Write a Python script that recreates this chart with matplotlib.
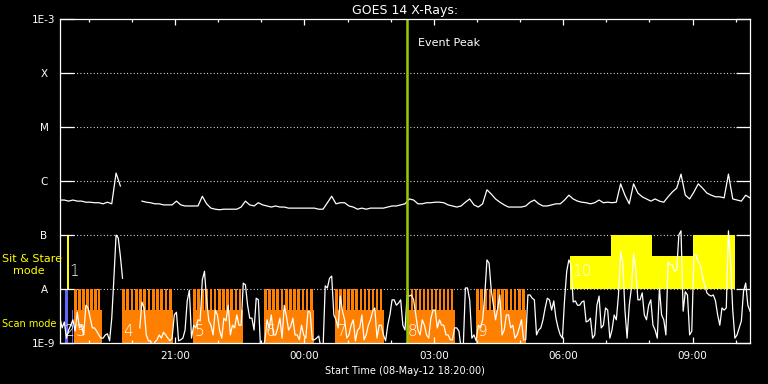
import numpy as np
import matplotlib
matplotlib.use('Agg')
import matplotlib.pyplot as plt
from matplotlib.ticker import NullLocator

W, H = 768, 384
nan = np.nan

# time in hours after 08-May-12 18:20:00 UT
t_long = np.arange(161) * 0.1     # 6 min samples
t_short = np.arange(321) * 0.05   # 3 min samples

# long channel (1-8 A), log10 W/m^2
goes_long_log = [
    -6.35, -6.35, -6.37, -6.35, -6.37, -6.37, -6.39, -6.39, -6.40, -6.40,
    -6.42, -6.39, -6.42, -5.85, -6.09, nan, nan, nan, nan, -6.37,
    -6.39, -6.40, -6.42, -6.42, -6.44, -6.44, -6.44, -6.37, -6.44, -6.46,
    -6.46, -6.46, -6.46, -6.28, -6.42, -6.50, -6.52, -6.53, -6.52, -6.52,
    -6.52, -6.52, -6.48, -6.37, -6.44, -6.46, -6.40, -6.44, -6.46, -6.48,
    -6.46, -6.48, -6.48, -6.50, -6.50, -6.50, -6.50, -6.50, -6.50, -6.50,
    -6.52, -6.52, -6.40, -6.28, -6.42, -6.40, -6.40, -6.46, -6.48, -6.52,
    -6.50, -6.52, -6.50, -6.50, -6.50, -6.50, -6.48, -6.46, -6.46, -6.44,
    -6.42, -6.33, -6.35, -6.42, -6.42, -6.40, -6.40, -6.39, -6.39, -6.40,
    -6.44, -6.46, -6.48, -6.46, -6.39, -6.33, -6.44, -6.48, -6.42, -6.16,
    -6.24, -6.33, -6.39, -6.44, -6.48, -6.48, -6.48, -6.48, -6.46, -6.39,
    -6.35, -6.42, -6.46, -6.46, -6.44, -6.42, -6.42, -6.35, -6.26, -6.33,
    -6.37, -6.39, -6.40, -6.42, -6.40, -6.35, -6.40, -6.39, -6.40, -6.39,
    -6.05, -6.26, -6.42, -6.05, -6.22, -6.29, -6.33, -6.37, -6.33, -6.37,
    -6.39, -6.29, -6.20, -6.13, -5.87, -6.26, -6.33, -6.20, -6.05, -6.13,
    -6.22, -6.26, -6.29, -6.29, -6.31, -5.87, -6.33, -6.35, -6.37, -6.26,
    -6.31]

# short channel (0.5-4 A), log10 W/m^2
goes_short_log = [
    -8.54, -8.72, -8.61, -8.91, -8.76, -8.67, -8.57, -8.78, -8.43, -8.72,
    -8.67, -8.85, -8.30, -8.35, -8.54, -8.72, -8.72, -8.78, -8.85, -8.91,
    -8.91, -8.85, -8.83, -8.96, -8.54, -7.80, -7.00, -7.05, -7.39, -7.80,
    nan, nan, nan, nan, nan, nan, nan, -8.72, -8.24, -8.35,
    -8.85, -8.96, -8.96, -9.10, -8.98, -8.94, -8.85, -8.91, -8.80, -8.85,
    -8.91, -8.96, -8.91, -8.48, -8.43, -8.96, -8.94, -8.91, -8.76, -8.22,
    -8.02, -8.91, -8.67, -8.72, -8.57, -8.59, -7.83, -7.67, -8.20, -8.59,
    -8.67, -8.85, -8.39, -8.48, -8.76, -8.91, -8.54, -8.59, -8.30, -8.85,
    -8.67, -8.72, -8.48, -8.67, -8.67, -7.89, -7.92, -8.30, -8.54, -8.54,
    -8.76, -8.17, -8.20, -9.10, -9.10, -8.96, -8.57, -8.72, -8.48, -8.85,
    -8.85, -8.72, -8.54, -8.91, -8.30, -8.50, -8.76, -8.69, -8.54, -8.85,
    -8.85, -8.94, -8.67, -8.85, -8.91, -8.41, -8.43, -8.94, -8.94, -8.91,
    -8.87, -9.10, -9.10, -7.94, -7.98, -7.80, -7.76, -8.48, -8.57, -8.72,
    -8.13, -8.41, -8.57, -8.91, -8.85, -8.67, -8.57, -8.96, -8.76, -8.72,
    -8.48, -8.94, -8.85, -8.67, -8.57, -8.41, -8.35, -8.91, -8.67, -8.67,
    -8.85, -8.96, -8.67, -8.48, -8.20, -8.20, -8.30, -8.26, -8.20, -8.67,
    -8.76, -8.11, -8.13, -8.11, -8.20, -8.48, -8.76, -8.85, -8.57, -8.67,
    -8.85, -8.91, -8.54, -8.39, -8.39, -8.72, -8.57, -8.67, -8.67, -8.85,
    -8.85, -8.94, -8.94, -8.72, -8.72, -8.78, -9.10, -9.10, -7.98, -7.98,
    -8.20, -8.91, -8.85, -8.96, -8.67, -8.72, -8.57, -8.11, -7.46, -7.52,
    -8.02, -8.30, -8.57, -8.35, -8.11, -8.85, -8.76, -8.48, -8.48, -8.72,
    -8.67, -8.91, -8.85, -8.72, -8.57, -8.94, -8.94, -8.11, -8.11, -8.17,
    -8.20, -8.85, -8.76, -8.72, -8.57, -8.35, -8.17, -8.20, -8.39, -8.22,
    -8.54, -8.72, -8.85, -8.91, -8.20, -7.67, -7.46, -7.55, -8.24, -8.22,
    -8.30, -8.30, -8.24, -8.22, -8.61, -8.59, -8.54, -8.91, -8.85, -8.30,
    -8.13, -8.72, -8.67, -8.35, -8.39, -8.91, -8.76, -8.48, -8.57, -8.11,
    -7.31, -7.52, -8.39, -8.91, -8.30, -7.98, -7.35, -7.61, -8.20, -8.20,
    -8.07, -8.48, -8.57, -8.30, -8.20, -8.67, -8.76, -8.91, -7.98, -8.48,
    -8.57, -8.85, -7.50, -7.55, -7.55, -7.67, -7.65, -7.00, -6.92, -8.41,
    -8.05, -8.11, -8.85, -8.78, -7.37, -7.37, -7.50, -7.55, -7.78, -7.92,
    -8.07, -8.11, -8.13, -8.11, -8.22, -8.48, -8.67, -8.35, -8.39, -8.35,
    -6.92, -7.52, -8.39, -8.91, -8.85, -8.72, -8.59, -8.04, -7.89, -8.30,
    -8.41]

event_peak = 8.04  # 02:22 UT

# observation 1: sit & stare (short)
ss1_start, ss1_end = 0.16, 0.21
# observation 2: scan (blue)
obs2_raster = (0.116, 0.186)
obs2_base = (0.278, 0.309)
# scan mode observations 3-9
scan_ids = ['3', '4', '5', '6', '7', '8', '9']
scan_start = [0.33, 1.44, 3.08, 4.73, 6.38, 8.04, 9.65]
scan_end = [0.97, 2.62, 4.24, 5.89, 7.51, 9.15, 10.81]
scan_rasters = [7, 12, 12, 12, 12, 12, 12]
# observation 10: sit & stare, pointings
ss10_start = [11.83, 12.78, 13.73, 14.68]
ss10_end = [12.78, 13.73, 14.68, 15.65]
ss10_top = [4.1e-8, 1e-7, 4.1e-8, 1e-7]

class_levels = [1e-9, 1e-8, 1e-7, 1e-6, 1e-5, 1e-4, 1e-3]
class_labels = ['1E-9', 'A', 'B', 'C', 'M', 'X', '1E-3']

xtick_clock = [21, 24, 27, 30, 33]
xtick_labels = ['21:00', '00:00', '03:00', '06:00', '09:00']
t0_clock = 18 + 20 / 60.0

orange = '#FF8000'
yellow = '#FFFF00'
blue = '#6464FF'
floor = 1e-10
scan_base = 4.1e-9

fig = plt.figure(figsize=(W / 100, H / 100), dpi=100, facecolor='black')
ax = fig.add_axes([60 / W, 1 - 343 / H, 690 / W, 323.7 / H], facecolor='black')
ax.set_yscale('log')
ax.set_xlim(0, 16)
ax.set_ylim(1e-9, 1e-3)

# dotted class lines
for lvl in class_levels[1:-1]:
    ax.axhline(lvl, color='white', lw=0.8, dashes=(0.8, 2.2), zorder=0.5)

# observation blocks
ax.bar(ss1_start, 1e-7 - 1e-8, bottom=1e-8, width=ss1_end - ss1_start,
       align='edge', color=yellow, lw=0, zorder=1)
ax.bar(obs2_raster[0], 1e-8 - floor, bottom=floor, width=obs2_raster[1] - obs2_raster[0],
       align='edge', color=blue, lw=0, zorder=1)
ax.bar(obs2_base[0], scan_base - floor, bottom=floor, width=obs2_base[1] - obs2_base[0],
       align='edge', color=blue, lw=0, zorder=1)
for s, e, n in zip(scan_start, scan_end, scan_rasters):
    ax.bar(s, scan_base - floor, bottom=floor, width=e - s, align='edge',
           color=orange, lw=0, zorder=1)
    step = (e - s) / n
    ax.bar(s + step * np.arange(n), 1e-8 - floor, bottom=floor, width=0.65 * step,
           align='edge', color=orange, lw=0, zorder=1)
ax.bar(ss10_start, np.array(ss10_top) - 1e-8, bottom=1e-8,
       width=np.array(ss10_end) - np.array(ss10_start),
       align='edge', color=yellow, lw=0, zorder=1)

# observation numbers
num_kw = dict(color='white', fontsize=11, fontweight='light', va='center', ha='left', zorder=2)
ax.text(ss1_start + 0.06, 2.1e-8, '1', **num_kw)
ax.text(obs2_raster[0], 1.6e-9, '2', **num_kw)
for s, lab in zip(scan_start, scan_ids):
    ax.text(s + 0.03, 1.6e-9, lab, **num_kw)
ax.text(ss10_start[0] + 0.04, 2.1e-8, '10', **num_kw)

# GOES curves
ax.plot(t_long, 10 ** np.array(goes_long_log), color='white', lw=0.9, zorder=3)
ax.plot(t_short, 10 ** np.array(goes_short_log), color='white', lw=0.9, zorder=3)

ax.axvline(event_peak, color='#99CC00', lw=1.8, zorder=4)
ax.text(event_peak + 0.26, 0.927, 'Event Peak', color='white', fontsize=8,
        va='center', ha='left', transform=ax.get_xaxis_transform())

# axes styling
for sp in ax.spines.values():
    sp.set_color('white')
    sp.set_linewidth(0.9)
    sp.set_zorder(5)

ax.set_yticks(class_levels)
ax.set_yticklabels(class_labels)
ax.yaxis.set_minor_locator(NullLocator())
ax.tick_params(axis='y', which='major', direction='in', length=10, width=0.9,
               colors='white', left=True, right=True, labelsize=7.5, pad=11.5)
for lbl in ax.get_yticklabels():
    lbl.set_ha('center')

xt = [(h - t0_clock) % 24 for h in xtick_clock]
ax.set_xticks(xt)
ax.set_xticklabels(xtick_labels)
minor = [(h - t0_clock) % 24 for h in range(19, 35)]
ax.set_xticks(minor, minor=True)
ax.tick_params(axis='x', which='major', direction='in', length=4.3, width=0.9,
               colors='white', top=True, bottom=True, labelsize=7.5, pad=6)
ax.tick_params(axis='x', which='minor', direction='in', length=2.2, width=0.9,
               colors='white', top=True, bottom=True)

ax.set_title('GOES 14 X-Rays:', color='white', fontsize=9, pad=4)
ax.set_xlabel('Start Time (08-May-12 18:20:00)', color='white', fontsize=7, labelpad=3)

# mode labels on the left
fig.text(2 / W, 1 - 259 / H, 'Sit & Stare', color=yellow, fontsize=8, va='center', ha='left')
fig.text(13 / W, 1 - 271 / H, 'mode', color=yellow, fontsize=8, va='center', ha='left')
fig.text(2 / W, 1 - 324 / H, 'Scan mode', color=yellow, fontsize=7, va='center', ha='left')

fig.savefig('out.png', dpi=100, facecolor='black')
